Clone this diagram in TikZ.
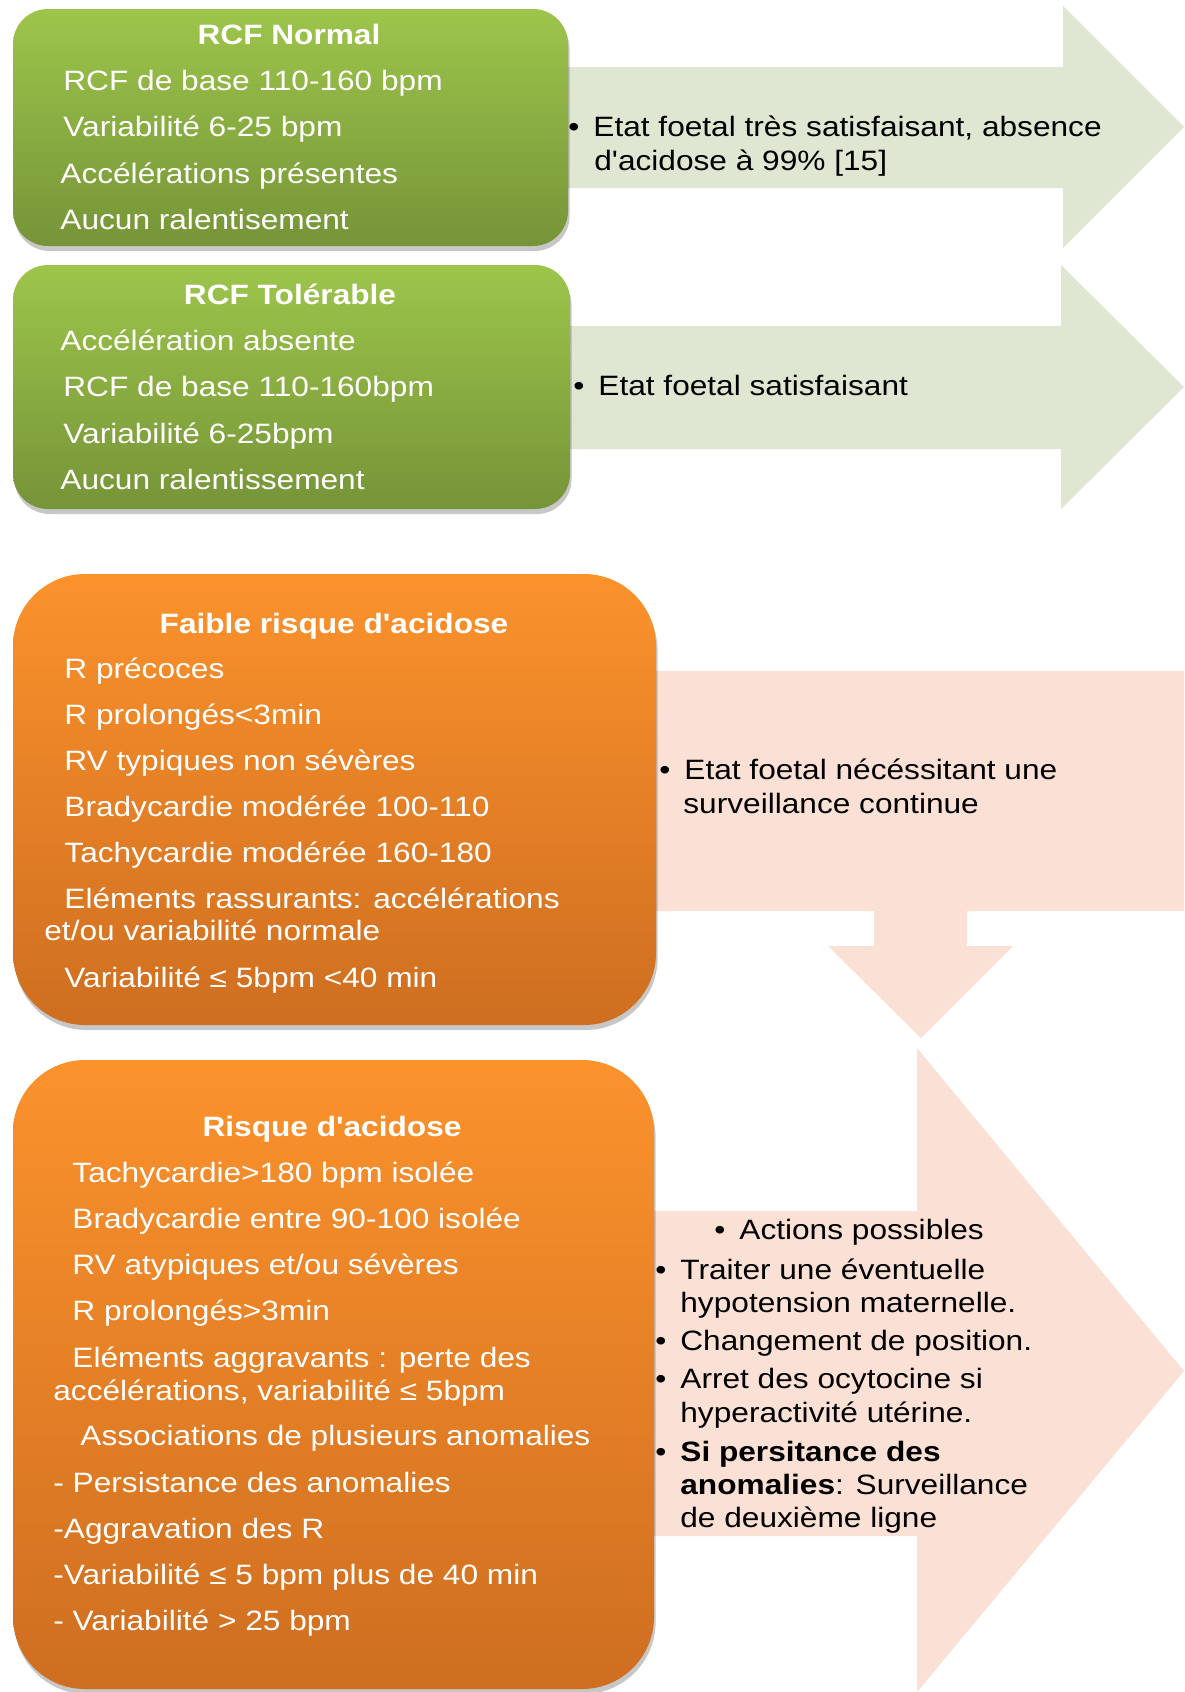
\documentclass[tikz,border=0pt]{standalone}
\usepackage{fontspec}
\setmainfont{Liberation Sans}[FakeStretch=1.13, Ligatures=TeXOff]
\usetikzlibrary{shadows}
\definecolor{gtop}{RGB}{157,197,75}
\definecolor{gbot}{RGB}{118,148,56}
\definecolor{garrow}{RGB}{223,231,211}
\definecolor{otop}{RGB}{251,146,44}
\definecolor{obot}{RGB}{206,110,32}
\definecolor{parrow}{RGB}{251,224,213}
\newcommand\fsz{\fontsize{14pt}{16.8pt}\selectfont}
\newcommand\bl{\makebox[12.5pt][l]{•}}
\begin{document}
\begin{tikzpicture}[x=0.5pt,y=-0.5pt,
  shad/.style={drop shadow={shadow xshift=0.8pt, shadow yshift=-2.5pt, opacity=0.22, fill=black}},
  gbox/.style={rounded corners=17.5pt, top color=gtop, bottom color=gbot, shad},
  obox/.style={rounded corners=36pt, top color=otop, bottom color=obot, shad},
  garr/.style={fill=garrow, draw=none},
  parr/.style={fill=parrow, draw=none},
  wt/.style={anchor=base west, inner sep=0pt, text=white, font=\fsz},
  wtitle/.style={anchor=base, inner sep=0pt, text=white, font=\fsz\bfseries},
  bt/.style={anchor=base west, inner sep=0pt, text=black, font=\fsz},
]
\useasboundingbox (0,0) rectangle (1184,1692);
\fill[white] (0,0) rectangle (1184,1692);

% ---------- arrows (behind) ----------
\path[garr] (540,67) -- (1063,67) -- (1063,6) -- (1184,127) -- (1063,248) -- (1063,188) -- (540,188) -- cycle;
\path[garr] (540,326) -- (1061,326) -- (1061,265) -- (1184,387) -- (1061,509) -- (1061,449) -- (540,449) -- cycle;
\path[parr] (620,671) -- (1184,671) -- (1184,911) -- (967,911) -- (967,946) -- (1013,946) -- (921,1038) -- (828,946) -- (874,946) -- (874,911) -- (620,911) -- cycle;
\path[parr] (620,1211) -- (917,1211) -- (917,1048) -- (1184,1371) -- (917,1692) -- (917,1536) -- (620,1536) -- cycle;

% ---------- boxes ----------
\path[gbox] (13,9) rectangle (568,246);
\path[gbox] (13,265) rectangle (570,509);
\path[obox] (13,574) rectangle (656,1025);
\path[obox] (13,1060) rectangle (654,1689);

% ---------- green box 1 ----------
\node[wtitle] (g1t) at (289,44) {RCF Normal};
\node[wt] (g1a) at (63,90) {RCF de base 110-160 bpm};
\node[wt] (g1b) at (63,136) {Variabilité 6-25 bpm};
\node[wt] (g1c) at (60,183) {Accélérations présentes};
\node[wt] (g1d) at (60,229) {Aucun ralentisement};

% ---------- green box 2 ----------
\node[wtitle] (g2t) at (290,304) {RCF Tolérable};
\node[wt] (g2a) at (60,350) {Accélération absente};
\node[wt] (g2b) at (63,396) {RCF de base 110-160bpm};
\node[wt] (g2c) at (63,443) {Variabilité 6-25bpm};
\node[wt] (g2d) at (60,489) {Aucun ralentissement};

% ---------- arrow texts (green) ----------
\node[bt] (a1a) at (568,136) {\bl Etat foetal très satisfaisant, absence};
\node[bt] (a1b) at (594,170) {d'acidose à 99\% [15]};
\node[bt] (a2a) at (573,395) {\bl Etat foetal satisfaisant};

% ---------- orange box 1 ----------
\node[wtitle] (o1t) at (334,633) {Faible risque d'acidose};
\node[wt] (o1a) at (64,678) {R précoces};
\node[wt] (o1b) at (64,724) {R prolongés<3min};
\node[wt] (o1c) at (64,770) {RV typiques non sévères};
\node[wt] (o1d) at (64,816) {Bradycardie modérée 100-110};
\node[wt] (o1e) at (64,862) {Tachycardie modérée 160-180};
\node[wt] (o1f) at (64,908) {Eléments rassurants: accélérations};
\node[wt] (o1g) at (44,940) {et/ou variabilité normale};
\node[wt] (o1h) at (64,987) {Variabilité ≤ 5bpm <40 min};

% ---------- pink arrow 3 text ----------
\node[bt] (p3a) at (659,779) {\bl Etat foetal nécéssitant une};
\node[bt] (p3b) at (683,813) {surveillance continue};

% ---------- orange box 2 ----------
\node[wtitle] (o2t) at (332,1136) {Risque d'acidose};
\node[wt] (o2a) at (72,1182) {Tachycardie>180 bpm isolée};
\node[wt] (o2b) at (72,1228) {Bradycardie entre 90-100 isolée};
\node[wt] (o2c) at (72,1274) {RV atypiques et/ou sévères};
\node[wt] (o2d) at (72,1320) {R prolongés>3min};
\node[wt] (o2e) at (72,1367) {Eléments aggravants : perte des};
\node[wt] (o2f) at (53,1400) {accélérations, variabilité ≤ 5bpm};
\node[wt] (o2g) at (80,1445) {Associations de plusieurs anomalies};
\node[wt] (o2h) at (53,1492) {- Persistance des anomalies};
\node[wt] (o2i) at (53,1538) {-Aggravation des R};
\node[wt] (o2j) at (53,1584) {-Variabilité ≤ 5 bpm plus de 40 min};
\node[wt] (o2k) at (53,1630) {- Variabilité > 25 bpm};

% ---------- pink arrow 4 text ----------
\node[bt] (p4a) at (714,1239) {\bl Actions possibles};
\node[bt] (p4b) at (655,1279) {\bl Traiter une éventuelle};
\node[bt] (p4c) at (680,1312) {hypotension maternelle.};
\node[bt] (p4d) at (655,1350) {\bl Changement de position.};
\node[bt] (p4e) at (655,1388) {\bl Arret des ocytocine si};
\node[bt] (p4f) at (680,1422) {hyperactivité utérine.};
\node[bt] (p4g) at (655,1461) {\bl \textbf{Si persitance des}};
\node[bt] (p4h) at (680,1494) {\textbf{anomalies}: Surveillance};
\node[bt] (p4i) at (680,1527) {de deuxième ligne};
\end{tikzpicture}
\end{document}
